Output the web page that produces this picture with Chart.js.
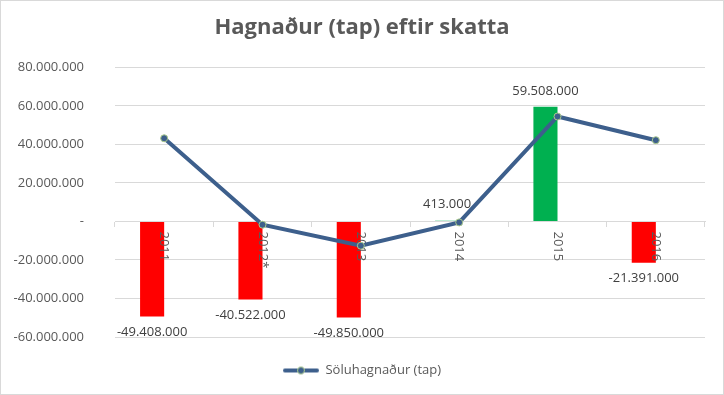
<!DOCTYPE html>
<html>
<head>
<meta charset="utf-8">
<script src="https://cdn.jsdelivr.net/npm/chart.js@4.4.1/dist/chart.umd.min.js"></script>
<style>
  html, body { margin: 0; padding: 0; background: #fff; }
  #wrap { position: relative; width: 724px; height: 395px; }
</style>
</head>
<body>
<div id="wrap"><canvas id="chart"></canvas></div>
<script>
const years = ['2011', '2012*', '2013', '2014', '2015', '2016'];
const profitAfterTax = [-49408000, -40522000, -49850000, 413000, 59508000, -21391000];
const saleProfit = [43200000, -1700000, -12600000, -500000, 54500000, 42200000];
const yMin = -60000000;
const yMax = 80000000;
const yStep = 20000000;

const lineColor = '#3d5f8c';
const pointEdge = '#a9c98b';
const gray = '#595959';

// 80.000.000 style, zero shown as "-"
function fmt(v) {
  if (v === 0) return '-';
  const s = Math.abs(v).toString().replace(/\B(?=(\d{3})+(?!\d))/g, '.');
  return (v < 0 ? '-' : '') + s;
}

// legend marker: line with a small circle
const legendIcon = document.createElement('canvas');
legendIcon.width = 36;
legendIcon.height = 10;
(function () {
  const c = legendIcon.getContext('2d');
  c.strokeStyle = lineColor;
  c.lineWidth = 4;
  c.lineCap = 'round';
  c.beginPath(); c.moveTo(2, 5); c.lineTo(34, 5); c.stroke();
  c.beginPath(); c.arc(18, 5, 3.5, 0, Math.PI * 2);
  c.fillStyle = lineColor; c.fill();
  c.lineWidth = 1; c.strokeStyle = pointEdge; c.stroke();
})();

const frame = {
  id: 'frame',
  beforeDraw(chart) {
    const ctx = chart.ctx;
    ctx.save();
    ctx.fillStyle = '#fff';
    ctx.fillRect(0, 0, chart.width, chart.height);
    ctx.strokeStyle = '#d9d9d9';
    ctx.lineWidth = 1;
    ctx.strokeRect(0.5, 0.5, chart.width - 1, chart.height - 1);
    ctx.restore();
  }
};

// rotated category labels hanging from the zero line
const yearLabels = {
  id: 'yearLabels',
  afterDatasetDraw(chart, args) {
    if (args.index !== 0) return;
    const ctx = chart.ctx;
    const xs = chart.scales.x, ys = chart.scales.y;
    const y0 = ys.getPixelForValue(0);
    ctx.save();
    ctx.font = '13px "Open Sans"';
    ctx.fillStyle = gray;
    ctx.textAlign = 'left';
    ctx.textBaseline = 'middle';
    years.forEach((t, i) => {
      ctx.save();
      ctx.translate(xs.getPixelForValue(i), y0 + 10);
      ctx.rotate(Math.PI / 2);
      ctx.fillText(t, 0, 0);
      ctx.restore();
    });
    ctx.restore();
  }
};

const barLabels = {
  id: 'barLabels',
  afterDatasetsDraw(chart) {
    const ctx = chart.ctx;
    const meta = chart.getDatasetMeta(0);
    ctx.save();
    ctx.font = '13px "Open Sans"';
    ctx.fillStyle = '#404040';
    ctx.textAlign = 'center';
    ctx.textBaseline = 'middle';
    meta.data.forEach((bar, i) => {
      const v = profitAfterTax[i];
      ctx.fillText(fmt(v), bar.x, v < 0 ? bar.y + 16 : bar.y - 16);
    });
    ctx.restore();
  }
};

new Chart(document.getElementById('chart'), {
  data: {
    labels: years,
    datasets: [
      {
        type: 'bar',
        label: 'Hagnaður (tap) eftir skatta',
        data: profitAfterTax,
        backgroundColor: profitAfterTax.map(v => v < 0 ? '#ff0000' : '#00b050'),
        barPercentage: 1,
        categoryPercentage: 0.49,
        order: 1
      },
      {
        type: 'bar',
        label: '',
        data: years.map(() => null),
        barPercentage: 1,
        categoryPercentage: 0.49,
        order: 1
      },
      {
        type: 'line',
        label: 'Söluhagnaður (tap)',
        data: saleProfit,
        borderColor: lineColor,
        borderWidth: 4,
        tension: 0,
        pointRadius: 3.5,
        pointBackgroundColor: lineColor,
        pointBorderColor: pointEdge,
        pointBorderWidth: 1,
        order: 0
      }
    ]
  },
  options: {
    responsive: true,
    maintainAspectRatio: false,
    animation: false,
    layout: { padding: { left: 0, right: 0, top: 0, bottom: 8 } },
    plugins: {
      title: {
        display: true,
        text: 'Hagnaður (tap) eftir skatta',
        color: gray,
        font: { family: "'Open Sans'", size: 22, weight: 'bold' },
        padding: { top: 15, bottom: 26 }
      },
      legend: {
        position: 'bottom',
        labels: {
          usePointStyle: true,
          pointStyleWidth: 36,
          color: gray,
          font: { family: 'Open Sans', size: 13 },
          padding: 27,
          filter: item => item.datasetIndex === 2,
          generateLabels: chart => {
            const items = Chart.defaults.plugins.legend.labels.generateLabels(chart);
            items.forEach(it => { if (it.datasetIndex === 2) it.pointStyle = legendIcon; });
            return items;
          }
        }
      },
      tooltip: { enabled: false }
    },
    scales: {
      x: {
        position: { y: 0 },
        offset: true,
        ticks: { display: false },
        grid: { drawOnChartArea: false, drawTicks: true, tickLength: 5, color: '#d9d9d9', offset: true },
        border: { display: true, color: '#d9d9d9' }
      },
      y: {
        min: yMin,
        max: yMax,
        ticks: {
          stepSize: yStep,
          callback: v => fmt(v),
          color: gray,
          font: { family: 'Open Sans', size: 13 },
          padding: 31
        },
        grid: { color: '#d9d9d9', drawTicks: false },
        border: { display: false },
        afterFit: s => { s.width = 115; }
      },
      // empty right margin so title and legend stay centred on the whole chart
      yRight: {
        position: 'right',
        ticks: { display: false },
        grid: { display: false },
        border: { display: false },
        afterFit: s => { s.width = 19; }
      }
    }
  },
  plugins: [frame, yearLabels, barLabels]
});
</script>
</body>
</html>
